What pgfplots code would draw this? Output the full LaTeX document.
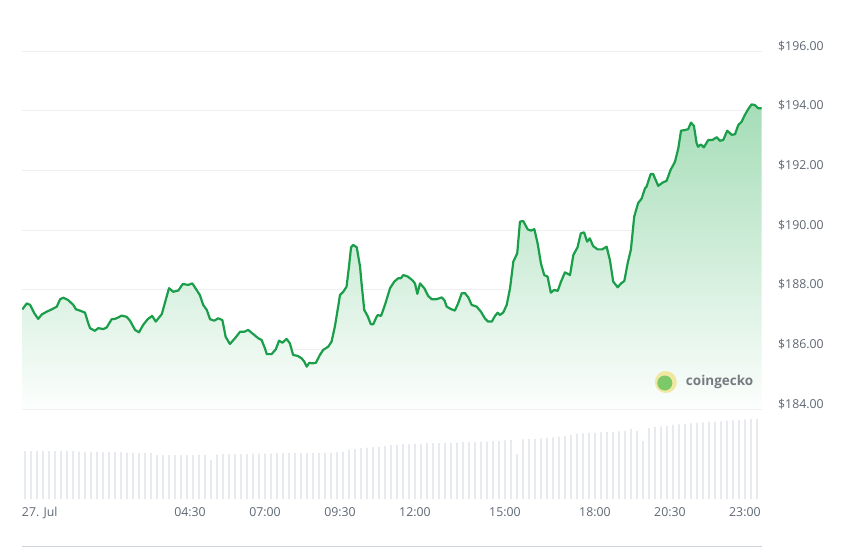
\documentclass[border=0pt]{standalone}
\usepackage{fontspec}
\setmainfont{Open Sans}
\usepackage{pgfplots}
\usepackage{pgfplotstable}
\pgfplotsset{compat=1.18}
\definecolor{pline}{RGB}{26,158,74}
\definecolor{ptop}{RGB}{165,221,183}
\definecolor{pbot}{RGB}{252,254,253}
\definecolor{gridc}{RGB}{236,238,241}
\definecolor{labc}{RGB}{95,103,115}
\definecolor{volc}{RGB}{231,234,238}
\definecolor{basec}{RGB}{205,212,222}
\definecolor{geckot}{RGB}{120,122,128}
\definecolor{geckoy}{RGB}{240,232,160}
\definecolor{geckog}{RGB}{125,200,105}

\pgfplotstableread{
h price
-1.09 187.34
-0.94 187.54
-0.83 187.49
-0.69 187.21
-0.56 187.02
-0.44 187.17
-0.28 187.26
-0.11 187.34
0.06 187.43
0.17 187.68
0.28 187.73
0.44 187.65
0.61 187.49
0.70 187.34
0.83 187.30
1.00 187.23
1.11 186.87
1.17 186.71
1.33 186.62
1.44 186.71
1.61 186.68
1.72 186.73
1.89 187.01
2.00 187.02
2.11 187.07
2.22 187.13
2.39 187.09
2.50 186.96
2.67 186.65
2.80 186.57
2.94 186.82
3.09 187.01
3.24 187.12
3.36 186.93
3.56 187.18
3.69 187.65
3.80 188.05
3.94 187.93
4.11 187.97
4.26 188.19
4.44 188.16
4.58 188.21
4.72 187.99
4.83 187.82
4.94 187.49
5.06 187.32
5.17 187.01
5.31 186.96
5.44 187.04
5.58 186.98
5.69 186.42
5.83 186.18
6.00 186.37
6.17 186.59
6.31 186.59
6.44 186.65
6.61 186.51
6.78 186.37
6.89 186.31
7.00 186.03
7.06 185.84
7.22 185.84
7.36 186.00
7.47 186.29
7.58 186.22
7.72 186.35
7.83 186.20
7.94 185.81
8.09 185.78
8.22 185.70
8.31 185.59
8.39 185.42
8.48 185.55
8.58 185.53
8.70 185.55
8.83 185.81
8.94 185.98
9.11 186.09
9.22 186.26
9.33 186.76
9.44 187.43
9.50 187.82
9.61 187.93
9.72 188.10
9.80 188.77
9.87 189.42
9.94 189.50
10.06 189.42
10.17 188.77
10.22 188.21
10.31 187.32
10.42 187.12
10.53 186.84
10.61 186.84
10.72 187.09
10.76 187.15
10.87 187.12
11.00 187.49
11.17 188.05
11.31 188.27
11.44 188.38
11.53 188.38
11.61 188.49
11.76 188.44
11.91 188.32
12.00 188.21
12.08 187.86
12.17 188.21
12.31 188.05
12.44 187.79
12.56 187.68
12.72 187.68
12.89 187.74
12.98 187.65
13.06 187.43
13.20 187.35
13.33 187.30
13.44 187.54
13.56 187.88
13.67 187.88
13.78 187.74
13.89 187.49
14.06 187.43
14.20 187.26
14.33 187.04
14.44 186.93
14.56 186.93
14.67 187.12
14.76 187.23
14.83 187.15
14.94 187.23
15.06 187.49
15.17 188.05
15.28 188.94
15.41 189.22
15.50 190.28
15.61 190.30
15.76 190.02
15.87 189.98
15.98 190.03
16.09 189.55
16.20 188.88
16.31 188.49
16.42 188.44
16.53 187.90
16.64 187.99
16.76 187.96
16.87 188.27
17.00 188.58
17.17 188.49
17.28 189.16
17.42 189.42
17.53 189.89
17.64 189.92
17.74 189.61
17.83 189.72
17.94 189.46
18.09 189.35
18.24 189.35
18.39 189.44
18.50 188.99
18.61 188.27
18.76 188.08
18.87 188.21
18.98 188.29
19.09 188.88
19.20 189.35
19.31 190.45
19.44 190.90
19.56 191.06
19.67 191.40
19.72 191.45
19.86 191.88
19.94 191.88
20.11 191.48
20.26 191.59
20.39 191.65
20.52 192.01
20.67 192.29
20.78 192.74
20.87 193.33
21.00 193.35
21.11 193.38
21.20 193.60
21.30 193.49
21.39 192.91
21.44 192.79
21.53 192.87
21.63 192.77
21.78 193.02
21.92 193.02
22.06 193.11
22.17 192.99
22.28 193.02
22.41 193.33
22.56 193.19
22.67 193.21
22.78 193.52
22.89 193.63
23.00 193.86
23.11 194.05
23.22 194.21
23.33 194.19
23.44 194.08
23.56 194.08
}\pricedata

\pgfplotstableread{
h vol
-1.0 48
-0.8 48
-0.6 48
-0.4 48
-0.2 48
0.0 48
0.2 48
0.4 48
0.6 48
0.8 47.5
1.0 47.5
1.2 47.5
1.4 47.5
1.6 47
1.8 47
2.0 47
2.2 47
2.4 46.5
2.6 46.5
2.8 46
3.0 46
3.2 46
3.4 44
3.6 44
3.8 44
4.0 44
4.2 44
4.4 44
4.6 44
4.8 44.5
5.0 44.5
5.2 39
5.4 44.5
5.6 45
5.8 45
6.0 45
6.2 45
6.4 45
6.6 45.5
6.8 45.5
7.0 45.5
7.2 45.5
7.4 46
7.6 46
7.8 46
8.0 46
8.2 46
8.4 46
8.6 46
8.8 46
9.0 46.5
9.2 46.5
9.4 47
9.6 47.5
9.8 49.5
10.0 50
10.2 51
10.4 51.5
10.6 52
10.8 52.5
11.0 53
11.2 54
11.4 54.5
11.6 55
11.8 55
12.0 55.5
12.2 55.5
12.4 56
12.6 56
12.8 56
13.0 56.5
13.2 56.5
13.4 56.5
13.6 57
13.8 57
14.0 57
14.2 57.5
14.4 57.5
14.6 58
14.8 58
15.0 58.5
15.2 59
15.4 45
15.6 59.5
15.8 60
16.0 60
16.2 60.5
16.4 61
16.6 61.5
16.8 62
17.0 63
17.2 64
17.4 65
17.6 65.5
17.8 66
18.0 66
18.2 66.5
18.4 67
18.6 67
18.8 67.5
19.0 68
19.2 70
19.4 68
19.6 58
19.8 71
20.0 72
20.2 72.5
20.4 73
20.6 74
20.8 74.5
21.0 75
21.2 75.5
21.4 76
21.6 76.5
21.8 77
22.0 77
22.2 77.5
22.4 78
22.6 78.5
22.8 79
23.0 79.5
23.2 80
23.4 80
}\voldata

\begin{document}
\begin{tikzpicture}[x=1pt,y=1pt]
\path[use as bounding box] (0,0) rectangle (856,547);
\begin{axis}[
  at={(22pt,138pt)}, anchor=south west, scale only axis,
  width=740pt, height=358pt,
  xmin=-1.1, xmax=23.57, ymin=184, ymax=196,
  axis line style={draw=none},
  xtick=\empty,
  ytick={184,186,188,190,192,194,196},
  yticklabels={\$184.00,\$186.00,\$188.00,\$190.00,\$192.00,\$194.00,\$196.00},
  yticklabel pos=right,
  major tick length=0pt,
  ymajorgrids,
  grid style={gridc, line width=0.8pt},
  yticklabel style={anchor=west, inner sep=0pt, xshift=16pt, yshift=5pt,
    font=\fontsize{12.3}{14}\selectfont, text=labc},
]
\addplot[draw=none, top color=ptop, bottom color=pbot, mark=none] table[x=h,y=price]{\pricedata} \closedcycle;
\addplot[pline, line width=2.2pt, line join=round, mark=none] table[x=h,y=price]{\pricedata};
\fill[geckoy] (rel axis cs:0.870,0.0754) circle[radius=11pt];
\fill[geckog] ([xshift=-1pt,yshift=-1pt]rel axis cs:0.870,0.0754) circle[radius=7.5pt];
\node[anchor=west, inner sep=0pt, font=\bfseries\fontsize{13.5}{16}\selectfont, text=geckot] at (rel axis cs:0.897,0.0754) {coingecko};
\end{axis}
\begin{axis}[
  at={(22pt,48pt)}, anchor=south west, scale only axis,
  width=740pt, height=80pt,
  xmin=-1.1, xmax=23.57, ymin=0, ymax=80,
  axis line style={draw=none},
  ytick=\empty,
  xtick={0,4.5,7,9.5,12,15,18,20.5,23},
  xticklabels={\makebox[0pt][l]{\hspace{-33pt}27. Jul},04:30,07:00,09:30,12:00,15:00,18:00,20:30,23:00},
  major tick length=0pt,
  xticklabel style={font=\fontsize{12.3}{14}\selectfont, text=labc, yshift=-5pt},
]
\addplot[ybar, bar width=1.8pt, fill=volc, draw=none] table[x=h,y=vol]{\voldata};
\end{axis}
\draw[basec, line width=1pt] (22,1) -- (762,1);
\end{tikzpicture}
\end{document}
